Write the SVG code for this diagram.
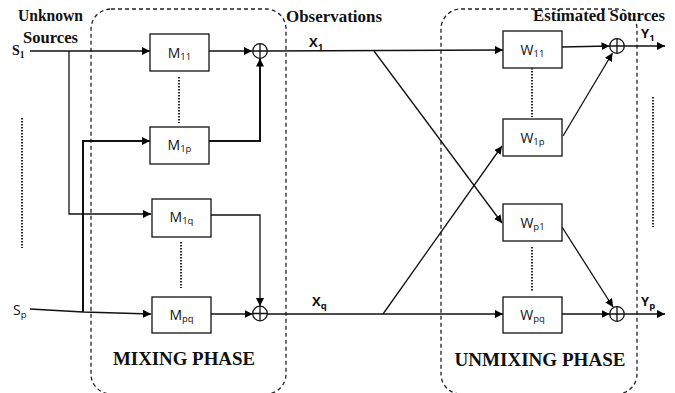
<svg xmlns="http://www.w3.org/2000/svg" width="675" height="393" viewBox="0 0 675 393">
  <defs>
    <marker id="arrow" viewBox="0 0 10 10" refX="10" refY="5" markerWidth="8" markerHeight="8" markerUnits="userSpaceOnUse" orient="auto">
      <path d="M0,0 L10,5 L0,10 z" fill="#000"/>
    </marker>
    <style>
      .bg { fill: #fff; }
      .phase { fill: none; stroke: #222; stroke-width: 1.3; stroke-dasharray: 4 3; }
      .box { fill: #fff; stroke: #111; stroke-width: 1.3; }
      .dots { fill: none; stroke: #111; stroke-width: 1.8; stroke-dasharray: 1.5 1.5; }
      .wire { fill: none; stroke: #111; stroke-width: 1.3; }
      .wire.heavy { stroke-width: 2; }
      .arr { marker-end: url(#arrow); }
      .sum { fill: #fff; stroke: #111; stroke-width: 1.3; }
      .title { font-family: "Liberation Serif", "Times New Roman", serif; font-weight: bold; font-size: 17px; fill: #111; }
      .phase-title { font-family: "Liberation Serif", "Times New Roman", serif; font-weight: bold; font-size: 19px; fill: #111; }
      .lbl { font-family: "Open Sans", "Liberation Sans", sans-serif; font-size: 14px; fill: #111; }
      .sig { font-family: "Open Sans", "Liberation Sans", sans-serif; font-size: 13px; fill: #111; font-weight: bold; }
      .sub { font-size: 9.5px; }
    </style>
  </defs>

  <rect class="bg" x="0" y="0" width="675" height="393"/>

  <!-- phase regions -->
  <g id="mixing-phase">
    <rect class="phase" x="91" y="9" width="195" height="385" rx="20" ry="20"/>
    <text class="phase-title" x="184" y="365" text-anchor="middle" textLength="142" lengthAdjust="spacingAndGlyphs">MIXING PHASE</text>
  </g>
  <g id="unmixing-phase">
    <rect class="phase" x="441" y="9" width="196" height="385" rx="20" ry="20"/>
    <text class="phase-title" x="540" y="366" text-anchor="middle" textLength="171" lengthAdjust="spacingAndGlyphs">UNMIXING PHASE</text>
  </g>

  <!-- headings -->
  <g id="headings">
    <text class="title" x="18" y="21" textLength="65" lengthAdjust="spacingAndGlyphs">Unknown</text>
    <text class="title" x="23" y="43" textLength="55" lengthAdjust="spacingAndGlyphs">Sources</text>
    <text class="title" x="286" y="22" textLength="96" lengthAdjust="spacingAndGlyphs">Observations</text>
    <text class="title" x="533" y="21" textLength="132" lengthAdjust="spacingAndGlyphs">Estimated Sources</text>
  </g>

  <!-- connectors -->
  <g id="connectors">
    <!-- sources into mixing blocks -->
    <path class="wire arr" d="M30,51 L150,51"/>
    <path class="wire arr" d="M69,51 L69,214 L151,214"/>
    <path class="wire heavy arr" d="M83,312 L83,141 L150,141"/>
    <path class="wire arr" d="M30,309 L83,312 L151,314"/>
    <!-- mixing blocks into summers -->
    <path class="wire arr" d="M209,51 L252,51"/>
    <path class="wire heavy arr" d="M209,141 L260,141 L260,58.5"/>
    <path class="wire arr" d="M211,215 L260,215 L260,306"/>
    <path class="wire arr" d="M211,314 L252.5,314"/>
    <!-- observations into unmixing blocks -->
    <path class="wire arr" d="M267,51 L503,50"/>
    <path class="wire arr" d="M374,51 L502,223"/>
    <path class="wire arr" d="M267,314 L503,314"/>
    <path class="wire arr" d="M383,314 L502,146"/>
    <!-- unmixing blocks into summers -->
    <path class="wire arr" d="M562,47 L609.5,46"/>
    <path class="wire arr" d="M563,136 L612.5,53"/>
    <path class="wire arr" d="M562,227 L613,307"/>
    <path class="wire arr" d="M562,314 L609.5,314"/>
    <!-- outputs -->
    <path class="wire arr" d="M624,46 L665,46"/>
    <path class="wire arr" d="M624,314 L665,314"/>
    <!-- elision dots -->
    <path class="dots" d="M22,118 L22,248"/>
    <path class="dots" d="M179,77 L179,123"/>
    <path class="dots" d="M181,242 L181,288"/>
    <path class="dots" d="M532,68 L532,117"/>
    <path class="dots" d="M532,247 L532,292"/>
    <path class="dots" d="M653,97 L653,227"/>
  </g>

  <!-- signal labels -->
  <g id="signal-labels">
    <text x="12" y="55" font-family="Liberation Serif, serif" font-weight="bold" font-size="14" fill="#111">S<tspan font-size="9.5" dy="3">1</tspan></text>
    <text class="lbl" x="13" y="315">S<tspan class="sub" dy="3">p</tspan></text>
    <text class="sig" x="309" y="47">X<tspan class="sub" dy="3">1</tspan></text>
    <text class="sig" x="312" y="306">X<tspan class="sub" dy="3">q</tspan></text>
    <text class="sig" x="641" y="38">Y<tspan class="sub" dy="3">1</tspan></text>
    <text class="sig" x="641" y="306">Y<tspan class="sub" dy="3">p</tspan></text>
  </g>

  <!-- mixing blocks -->
  <g id="M11">
    <rect class="box" x="150" y="34" width="59" height="37"/>
    <text class="lbl" x="179.5" y="58" text-anchor="middle">M<tspan class="sub" dy="2">11</tspan></text>
  </g>
  <g id="M1p">
    <rect class="box" x="150" y="127" width="59" height="37"/>
    <text class="lbl" x="179.5" y="150" text-anchor="middle">M<tspan class="sub" dy="2">1p</tspan></text>
  </g>
  <g id="M1q">
    <rect class="box" x="152" y="199" width="59" height="38"/>
    <text class="lbl" x="181.5" y="222" text-anchor="middle">M<tspan class="sub" dy="2">1q</tspan></text>
  </g>
  <g id="Mpq">
    <rect class="box" x="152" y="297" width="59" height="36"/>
    <text class="lbl" x="181.5" y="320" text-anchor="middle">M<tspan class="sub" dy="2">pq</tspan></text>
  </g>

  <!-- mixing summers -->
  <g id="sum-x1">
    <circle class="sum" cx="260" cy="51" r="7.3"/>
    <path class="wire" d="M252.7,51 L267.3,51 M260,43.7 L260,58.3"/>
  </g>
  <g id="sum-xq">
    <circle class="sum" cx="260" cy="313.5" r="7.3"/>
    <path class="wire" d="M252.7,313.5 L267.3,313.5 M260,306.2 L260,320.8"/>
  </g>

  <!-- unmixing blocks -->
  <g id="W11">
    <rect class="box" x="503" y="31" width="59" height="37"/>
    <text class="lbl" x="532.5" y="55" text-anchor="middle">W<tspan class="sub" dy="2">11</tspan></text>
  </g>
  <g id="W1p">
    <rect class="box" x="503" y="119" width="59" height="37"/>
    <text class="lbl" x="532.5" y="143" text-anchor="middle">W<tspan class="sub" dy="2">1p</tspan></text>
  </g>
  <g id="Wp1">
    <rect class="box" x="503" y="204" width="59" height="37"/>
    <text class="lbl" x="532.5" y="228" text-anchor="middle">W<tspan class="sub" dy="2">p1</tspan></text>
  </g>
  <g id="Wpq">
    <rect class="box" x="503" y="297" width="59" height="36"/>
    <text class="lbl" x="532.5" y="320" text-anchor="middle">W<tspan class="sub" dy="2">pq</tspan></text>
  </g>

  <!-- unmixing summers -->
  <g id="sum-y1">
    <circle class="sum" cx="617" cy="46" r="7.3"/>
    <path class="wire" d="M609.7,46 L624.3,46 M617,38.7 L617,53.3"/>
  </g>
  <g id="sum-yp">
    <circle class="sum" cx="617" cy="314" r="7.3"/>
    <path class="wire" d="M609.7,314 L624.3,314 M617,306.7 L617,321.3"/>
  </g>
</svg>
